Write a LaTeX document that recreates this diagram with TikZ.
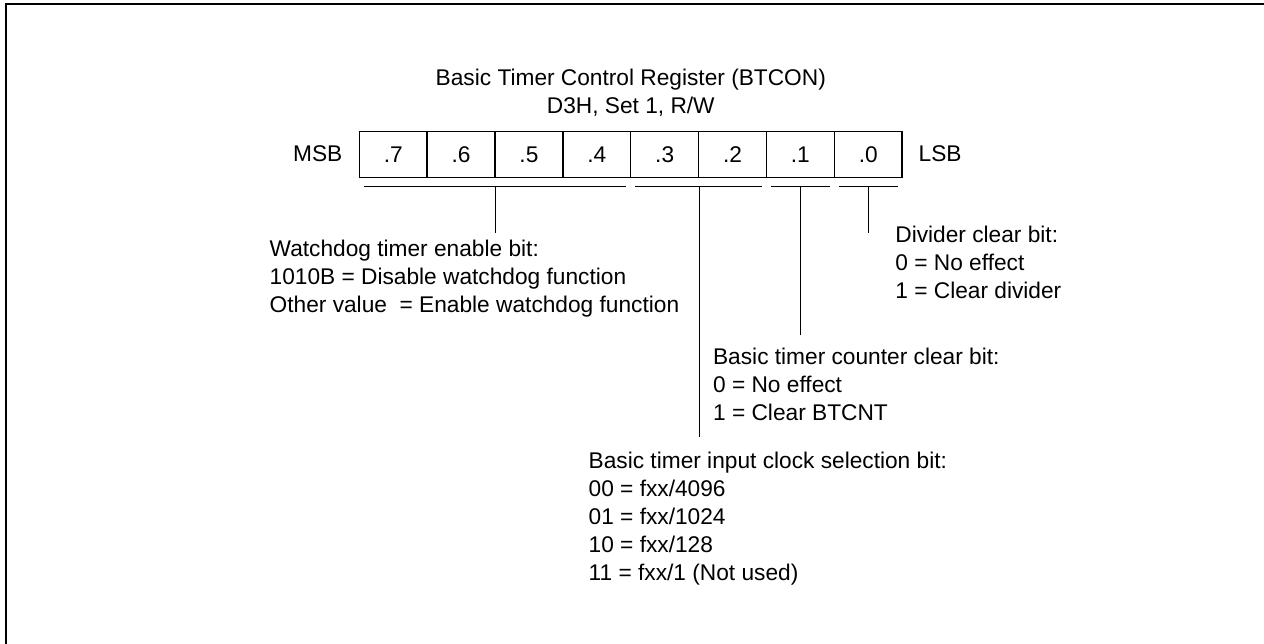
\documentclass[tikz,border=0pt]{standalone}
\usepackage{fontspec}
\setmainfont{Liberation Sans}
\usetikzlibrary{calc}
\begin{document}
\begin{tikzpicture}[x=0.5pt,y=-0.5pt,
  font=\fontsize{11.35}{13.95}\selectfont,
  cell/.style={draw,line width=0.75pt,minimum width=33.93pt,minimum height=22.8pt,inner sep=0pt,anchor=center},
  brk/.style={line width=0.65pt},
  lbl/.style={inner sep=0pt,align=left,anchor=base west},
  frame/.style={line width=1pt}]
\useasboundingbox (0,0) rectangle (1264,643);
\draw[frame] (6,660) -- (6,4) -- (1280,4);
% register cells
\foreach \i/\t in {0/7,1/6,2/5,3/4,4/3,5/2,6/1,7/0}
  \node[cell] (b\t) at ({393.23+67.86*\i},154.5) {.\t};
% title (anchored at the baseline of its last line)
\node[inner sep=0pt,align=center,anchor=base,font=\fontsize{11.35}{14.15}\selectfont] (title) at (630.8,113.3)
  {Basic Timer Control Register (BTCON)\\D3H, Set 1, R/W};
\node[inner sep=0pt,anchor=base east] (msb) at (342.7,161.7) {MSB};
\node[inner sep=0pt,anchor=base west] (lsb) at (918.3,161.7) {LSB};
% brackets
\coordinate (k1a) at ($(b7.south west)+(5.5,8.4)$);
\coordinate (k1b) at ($(b4.south east)+(-5.5,8.4)$);
\coordinate (k2a) at ($(b3.south west)+(5,8.4)$);
\coordinate (k2b) at ($(b2.south east)+(-5,8.4)$);
\coordinate (k3a) at ($(b1.south west)+(5,8.4)$);
\coordinate (k3b) at ($(b1.south east)+(-5,8.4)$);
\coordinate (k4a) at ($(b0.south west)+(5,8.4)$);
\coordinate (k4b) at ($(b0.south east)+(-5,8.4)$);
\draw[brk] (k1a) -- (k1b);
\draw[brk] (k2a) -- (k2b);
\draw[brk] (k3a) -- (k3b);
\draw[brk] (k4a) -- (k4b);
% stems
\coordinate (s1) at ($(b6.south east)+(0,8.4)$);
\coordinate (s2) at ($(b3.south east)+(0,8.4)$);
\coordinate (s3) at ($(b1.south)+(0,8.4)$);
\coordinate (s4) at ($(b0.south)+(0,8.4)$);
\coordinate (e1) at (s1 |- 0,233.3);
\coordinate (e2) at (s2 |- 0,437.3);
\coordinate (e3) at (s3 |- 0,335);
\coordinate (e4) at (s4 |- 0,233.3);
\draw[brk] (s1) -- (e1);
\draw[brk] (s2) -- (e2);
\draw[brk] (s3) -- (e3);
\draw[brk] (s4) -- (e4);
% descriptions (anchored at the baseline of their last line)
\node[lbl] (wdt) at (269.3,312.7)
  {Watchdog timer enable bit:\\1010B = Disable watchdog function\\Other value~ = Enable watchdog function};
\node[lbl] (div) at (895,298.3)
  {Divider clear bit:\\0 = No effect\\1 = Clear divider};
\node[lbl] (cnt) at (712.7,420.7)
  {Basic timer counter clear bit:\\0 = No effect\\1 = Clear BTCNT};
\node[lbl] (clk) at (588.3,580)
  {Basic timer input clock selection bit:\\00 = fxx/4096\\01 = fxx/1024\\10 = fxx/128\\11 = fxx/1 (Not used)};
\end{tikzpicture}
\end{document}
